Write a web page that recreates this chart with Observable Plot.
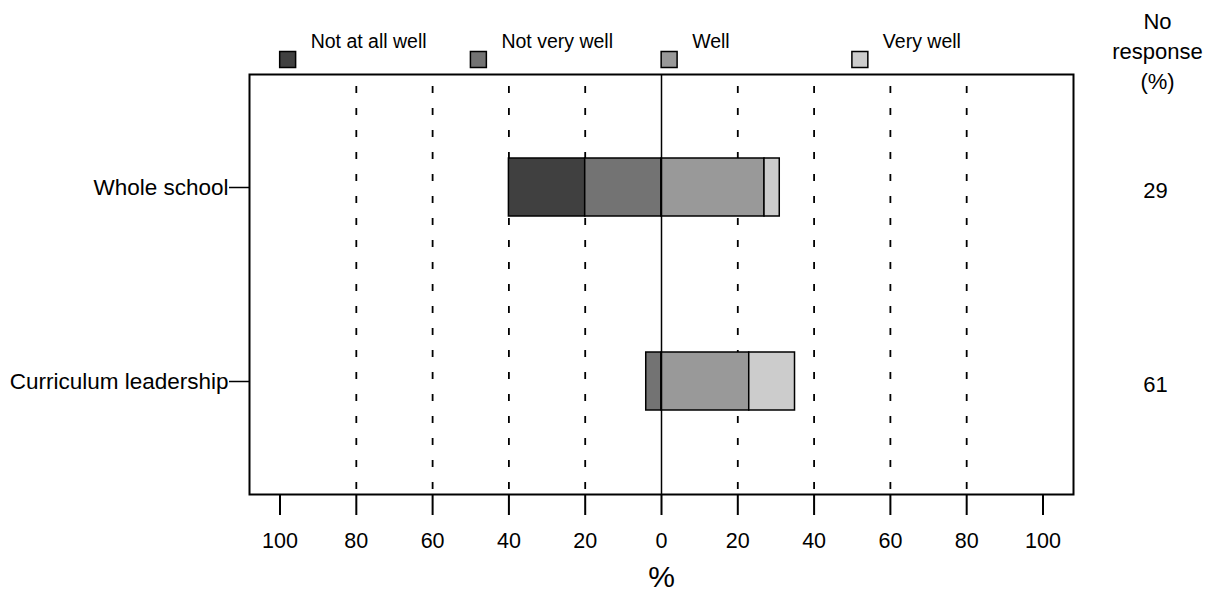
<!DOCTYPE html>
<html><head><meta charset="utf-8">
<script src="https://cdn.jsdelivr.net/npm/d3@7"></script>
<script src="https://cdn.jsdelivr.net/npm/@observablehq/plot@0.6"></script>
<style>body{margin:0;background:#fff;}</style>
</head><body><div id="chart"></div>
<script>
const categories = ["Whole school", "Curriculum leadership"];
const responses = ["Not at all well", "Not very well", "Well", "Very well"];
const notAtAllWell = [20, 0];
const notVeryWell = [20, 4];
const well = [27, 23];
const veryWell = [4, 12];
const noResponse = [29, 61];
const xTicks = [-100, -80, -60, -40, -20, 0, 20, 40, 60, 80, 100];
const gridTicks = [-80, -60, -40, -20, 20, 40, 60, 80];
const colors = ["#404040", "#737373", "#999999", "#cccccc"];

const seriesValues = [notAtAllWell, notVeryWell, well, veryWell];
const negative = new Set(["Not at all well", "Not very well"]);
const rows = [];
categories.forEach((c, ci) => responses.forEach((r, ri) => {
  const v = seriesValues[ri][ci];
  if (v > 0) rows.push({category: c, response: r, value: negative.has(r) ? -v : v});
}));
const noResp = categories.map((c, i) => ({category: c, value: noResponse[i]}));

const chart = Plot.plot({
  width: 1212,
  height: 592,
  marginTop: 74,
  marginBottom: 98,
  marginLeft: 249,
  marginRight: 139,
  style: {fontFamily: "'Liberation Sans', Arial, Helvetica, sans-serif", background: "#fff", color: "#000"},
  x: {domain: [-108, 108]},
  y: {domain: categories, paddingInner: 0.7, paddingOuter: 0.43},
  color: {domain: responses, range: colors},
  marks: [
    Plot.ruleX(gridTicks, {stroke: "black", strokeWidth: 1.8, strokeDasharray: "7,15", strokeDashoffset: -12}),
    Plot.barX(rows, Plot.stackX({
      x: "value", y: "category", z: "response", fill: "response",
      order: ["Not very well", "Not at all well", "Well", "Very well"],
      stroke: "black", strokeWidth: 1.5
    })),
    Plot.ruleX([0], {stroke: "black", strokeWidth: 1.5}),
    Plot.frame({stroke: "black", strokeWidth: 2}),
    Plot.axisX(xTicks, {tickSize: 21, tickPadding: 17, fontSize: 21.5, tickFormat: d => Math.abs(d), label: null, strokeWidth: 2}),
    Plot.axisY({tickSize: 20, tickPadding: 1, fontSize: 22.5, label: null, strokeWidth: 1.5}),
    Plot.text(["%"], {frameAnchor: "bottom", dy: 83, fontSize: 30, lineAnchor: "middle"}),
    Plot.dot(responses, {x: (d, i) => -98 + 50 * i, frameAnchor: "top", dy: -15, symbol: "square", r: 9, fill: d => d, stroke: "black", strokeWidth: 1.5}),
    Plot.text(responses, {x: (d, i) => -98 + 50 * i, frameAnchor: "top", dx: 23, dy: -33, textAnchor: "start", lineAnchor: "middle", fontSize: 19.5}),
    Plot.text(["No\nresponse\n(%)"], {frameAnchor: "top-right", dx: 84, dy: -25, textAnchor: "middle", lineAnchor: "middle", lineHeight: 1.36, fontSize: 22}),
    Plot.text(noResp, {y: "category", text: d => String(d.value), frameAnchor: "right", dx: 82, dy: 3, textAnchor: "middle", fontSize: 22})
  ]
});
document.getElementById("chart").appendChild(chart);
</script>
</body></html>
